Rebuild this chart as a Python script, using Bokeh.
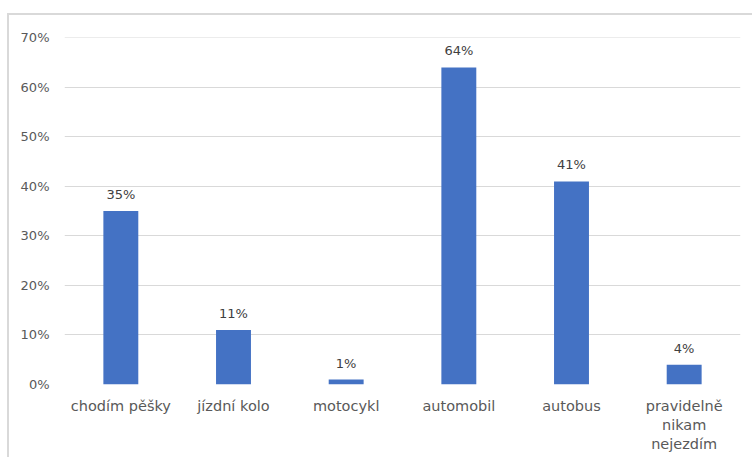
from bokeh.plotting import figure
from bokeh.models import ColumnDataSource, LabelSet, NumeralTickFormatter, FactorRange, Range1d, FixedTicker
from bokeh.core.properties import value
from bokeh.embed import file_html
from bokeh.resources import INLINE

categories = ["chodím pěšky", "jízdní kolo", "motocykl", "automobil", "autobus", "pravidelně\nnikam\nnejezdím"]
shares = [0.35, 0.11, 0.01, 0.64, 0.41, 0.04]
y_ticks = [0.0, 0.1, 0.2, 0.3, 0.4, 0.5, 0.6, 0.7]

labels = [f"{round(s * 100)}%" for s in shares]
source = ColumnDataSource(data=dict(cat=categories, share=shares, label=labels))

FONT = "DejaVu Sans"
BORDER = "#d9d9d9"

p = figure(
    width=752, height=457,
    x_range=FactorRange(*categories, range_padding=0),
    y_range=Range1d(0, 0.7005),
    output_backend="svg", toolbar_location=None,
    min_border_left=64, min_border_right=12, min_border_top=37, min_border_bottom=73,
    styles={
        "background": (
            f"linear-gradient({BORDER},{BORDER}) 7px 13px / 2px 100% no-repeat, "
            f"linear-gradient({BORDER},{BORDER}) 7px 13px / 100% 2px no-repeat, white"
        )
    },
)
p.outline_line_color = None
p.background_fill_color = "white"
p.border_fill_color = None

p.vbar(x="cat", top="share", width=0.31, source=source, fill_color="#4472C4", line_color=None)

lbl = LabelSet(x="cat", y="share", text="label", source=source, text_align="center",
               text_baseline="bottom", y_offset=9, text_font=value(FONT), text_font_size="13px",
               text_color="#404040")
p.add_layout(lbl)

p.xgrid.grid_line_color = None
p.ygrid.grid_line_color = "#d9d9d9"
p.ygrid.grid_line_width = 1
p.ygrid.ticker = FixedTicker(ticks=y_ticks)

p.yaxis.ticker = FixedTicker(ticks=y_ticks)
p.yaxis.formatter = NumeralTickFormatter(format="0%")
for ax in (p.xaxis, p.yaxis):
    ax.axis_line_color = None
    ax.major_tick_line_color = None
    ax.minor_tick_line_color = None
    ax.major_tick_out = 0
    ax.major_tick_in = 0
    ax.minor_tick_out = 0
    ax.major_label_text_font = FONT
    ax.major_label_text_color = "#595959"
p.yaxis.major_label_text_font_size = "13px"
p.xaxis.major_label_text_font_size = "14.5px"
p.yaxis.major_label_standoff = 15
p.xaxis.major_label_standoff = 13

open("out.html", "w").write(file_html(p, INLINE))
